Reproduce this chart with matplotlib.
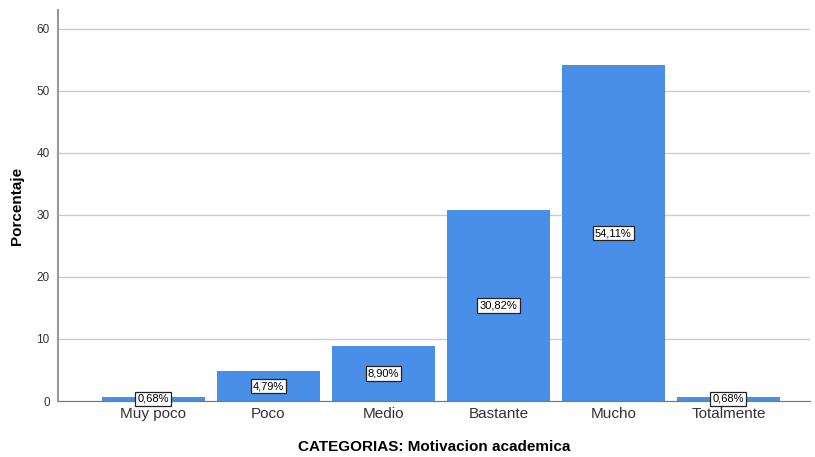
import matplotlib.pyplot as plt

plt.rcParams['font.family'] = ['Liberation Sans', 'DejaVu Sans']

categorias = ['Muy poco', 'Poco', 'Medio', 'Bastante', 'Mucho', 'Totalmente']
porcentajes = [0.68, 4.79, 8.90, 30.82, 54.11, 0.68]
etiquetas = ['0,68%', '4,79%', '8,90%', '30,82%', '54,11%', '0,68%']

fig = plt.figure(figsize=(8.15, 4.57), dpi=100)
ax = fig.add_axes([0.0712, 0.1225, 0.9227, 0.8555])

x = range(len(categorias))
ax.bar(x, porcentajes, width=0.9, color='#4a8fe7', zorder=2)

for i, (v, t) in enumerate(zip(porcentajes, etiquetas)):
    ax.text(i, v / 2, t, ha='center', va='center', fontsize=8, zorder=3,
            bbox=dict(boxstyle='square,pad=0.2', fc='white', ec='#222222', lw=0.9))

ax.set_xlim(-0.83, 5.71)
ax.set_ylim(0, 63)
ax.set_yticks([0, 10, 20, 30, 40, 50, 60])
ax.set_xticks(list(x))
ax.set_xticklabels(categorias, fontsize=11, color='#333333')
ax.tick_params(axis='y', labelsize=8.5, colors='#333333', length=0, pad=6)
ax.tick_params(axis='x', length=0, pad=4)
ax.yaxis.grid(True, color='#cccccc', lw=1, zorder=0)
ax.set_axisbelow(True)

for s in ['top', 'right']:
    ax.spines[s].set_visible(False)
ax.spines['left'].set_color('#999999')
ax.spines['left'].set_linewidth(1.5)
ax.spines['bottom'].set_color('#777777')

ax.set_xlabel('CATEGORIAS: Motivacion academica', fontsize=11, fontweight='bold', labelpad=14)
ax.set_ylabel('Porcentaje', fontsize=11, fontweight='bold', labelpad=9)

fig.savefig('out.png', dpi=100)
